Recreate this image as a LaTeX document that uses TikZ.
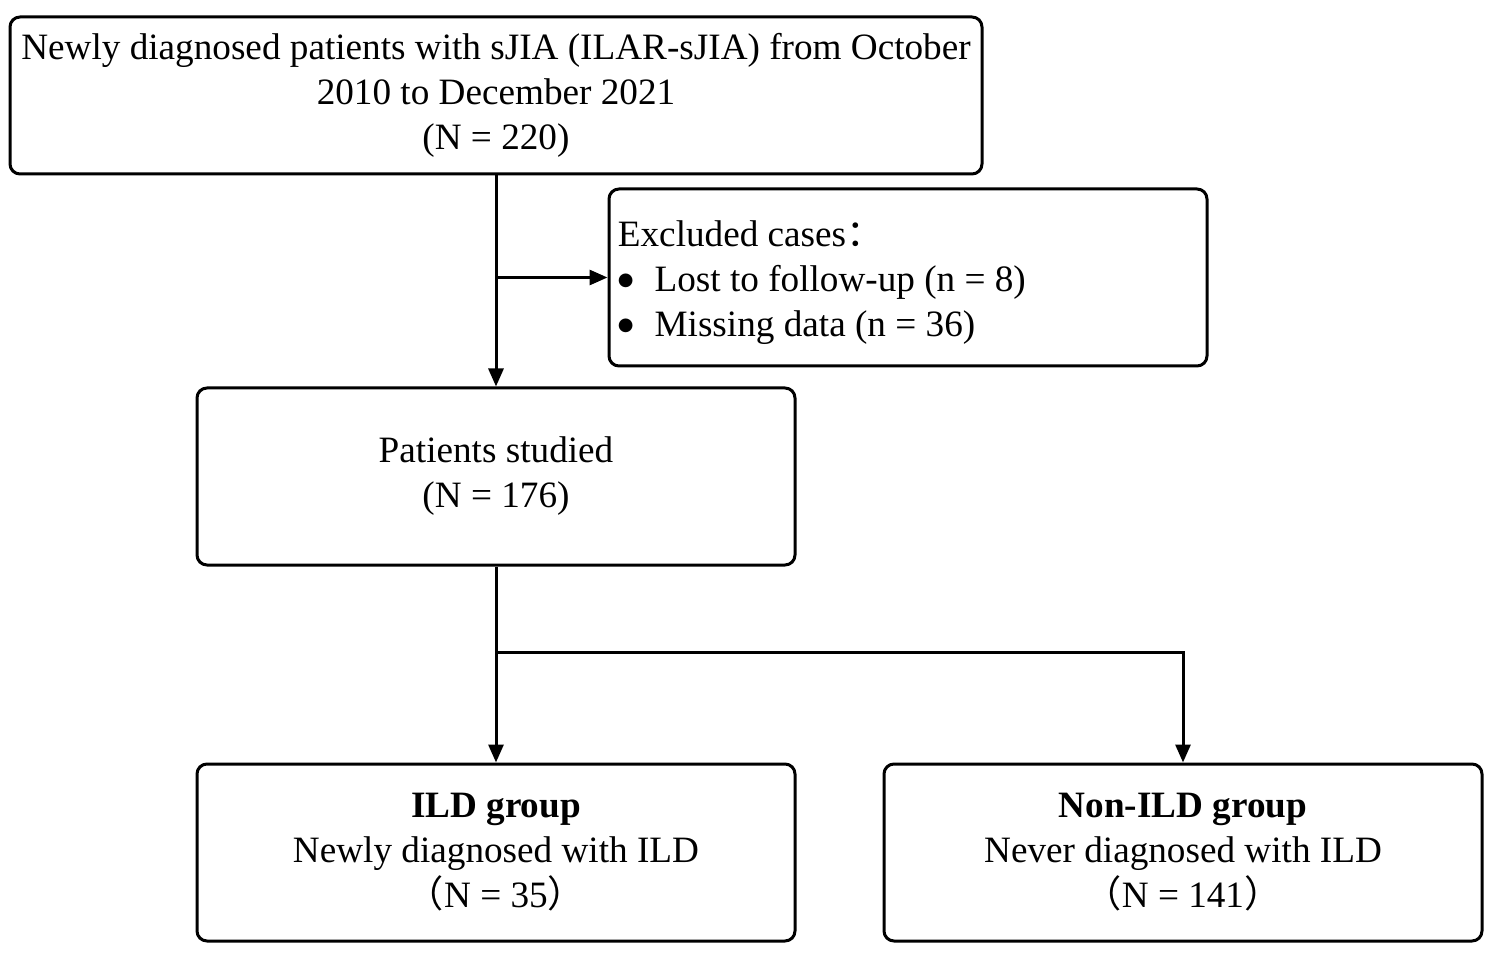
\documentclass[tikz,border=0pt]{standalone}
\usepackage{fontspec}
\setmainfont{Liberation Serif}
\newfontfamily\cjk{Noto Sans CJK SC}
\newfontfamily\symfont{DejaVu Sans}
\usetikzlibrary{arrows.meta}
\newcommand{\bigbul}{\raisebox{3pt}{\symfont\fontsize{9}{9}\selectfont ●}}
\tikzset{
  box/.style={draw=black, line width=1.5pt, rounded corners=5pt, align=center,
    font=\fontsize{18.6}{22.5}\selectfont, inner sep=0pt},
  txt/.style={align=left, font=\fontsize{18.6}{22.5}\selectfont, inner sep=0pt},
  arr/.style={line width=1.5pt, -{Triangle[length=9pt,width=7.5pt]}}
}
\begin{document}
\begin{tikzpicture}[x=0.5pt,y=-0.5pt]
\useasboundingbox (0,0) rectangle (1489,962);
\node[box, minimum width=486pt, minimum height=78.5pt] (top) at (496,95.5)
  {Newly diagnosed patients with sJIA (ILAR-sJIA) from October\\2010 to December 2021\\(N = 220)};
\node[box, minimum width=299pt, minimum height=88.5pt] (excl) at (908,277.5) {};
\node[txt, anchor=west] (excltxt) at ([xshift=5pt,yshift=-2.5pt]excl.west)
  {Excluded cases{\cjk ：}\\\bigbul\hspace{10.5pt}Lost to follow-up (n = 8)\\\bigbul\hspace{10.5pt}Missing data (n = 36)};
\node[box, minimum width=299pt, minimum height=88.5pt] (pat) at (496,476.5)
  {Patients studied\\(N = 176)};
\node[box, minimum width=299pt, minimum height=88.5pt] (ild) at (496,852.5)
  {\textbf{ILD group}\\Newly diagnosed with ILD\\{\cjk （}N = 35{\cjk ）}};
\node[box, minimum width=299pt, minimum height=88.5pt] (non) at (1183,852.5)
  {\textbf{Non-ILD group}\\Never diagnosed with ILD\\{\cjk （}N = 141{\cjk ）}};
\coordinate (j1) at (top.south |- excl.west);
\coordinate (j2) at (496,652);
\draw[arr] (top.south) -- (pat.north);
\draw[arr] (j1) -- (excl.west);
\draw[arr] (pat.south) -- (ild.north);
\draw[arr] (j2) -| (non.north);
\end{tikzpicture}
\end{document}
